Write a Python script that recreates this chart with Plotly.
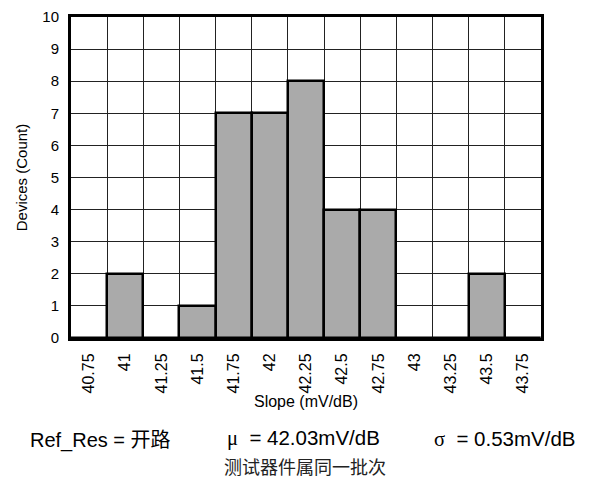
import plotly.graph_objects as go

slope_bins = [40.75, 41.0, 41.25, 41.5, 41.75, 42.0, 42.25, 42.5, 42.75, 43.0, 43.25, 43.5, 43.75]
tick_labels = ["40.75", "41", "41.25", "41.5", "41.75", "42", "42.25", "42.5", "42.75", "43", "43.25", "43.5", "43.75"]
counts = [0, 2, 0, 1, 7, 7, 8, 4, 4, 0, 0, 2, 0]
y_ticks = list(range(0, 11))

OFF = 8  # page body margin
W, H = 589 - OFF, 480 - OFF
L, R, T, B = 71 - OFF, 541 - OFF, 17 - OFF, 338 - OFF


def px(x):
    return (x - OFF - L) / (R - L)


def py(y):
    return (B - (y - OFF)) / (B - T)


fig = go.Figure()
fig.add_trace(go.Bar(
    x=slope_bins, y=counts, width=0.25,
    marker=dict(color="#aaaaaa", line=dict(color="black", width=2.5)),
))

fig.update_layout(
    width=W, height=H,
    margin=dict(l=L, r=W - R, t=T, b=H - B, autoexpand=False),
    plot_bgcolor="white", paper_bgcolor="white",
    showlegend=False,
    font=dict(family="Liberation Sans, Arial", color="black"),
    bargap=0,
)
fig.update_xaxes(
    range=[40.625, 43.875], automargin=False,
    tickvals=slope_bins, ticktext=tick_labels, tickangle=-90,
    tickfont=dict(size=16), ticks="outside", ticklen=6, tickcolor="rgba(0,0,0,0)",
    showgrid=False, ticklabeloverflow="allow",
    minor=dict(tick0=40.625, dtick=0.25, showgrid=True, gridcolor="#222222", gridwidth=1),
    showline=True, linecolor="black", linewidth=3, mirror=True,
    title=dict(text="Slope (mV/dB)", font=dict(size=16), standoff=2),
    zeroline=False,
)
fig.update_yaxes(
    range=[0, 10], tickvals=y_ticks, tickfont=dict(size=15), automargin=False,
    showgrid=True, gridcolor="#222222", gridwidth=1, ticklabeloverflow="allow",
    showline=True, linecolor="black", linewidth=3, mirror=True,
    title=dict(text="Devices (Count)", font=dict(size=15), standoff=12),
    zeroline=False, ticks="outside", ticklen=6, tickcolor="rgba(0,0,0,0)",
)

line_y = py(438)
fig.add_annotation(
    x=px(28), y=line_y, xref="paper", yref="paper", xanchor="left", yanchor="middle",
    text="Ref_Res = <span style='font-family:Noto Sans CJK SC'>开路</span>",
    showarrow=False, font=dict(size=20, family="Liberation Sans, Arial"),
)
fig.add_annotation(
    x=px(225), y=line_y, xref="paper", yref="paper", xanchor="left", yanchor="middle",
    text="<span style='font-family:Liberation Serif'>μ</span>  = 42.03mV/dB",
    showarrow=False, font=dict(size=20.5, family="Liberation Sans, Arial"),
)
fig.add_annotation(
    x=px(432), y=line_y, xref="paper", yref="paper", xanchor="left", yanchor="middle",
    text="<span style='font-family:Liberation Serif'>σ</span>  = 0.53mV/dB",
    showarrow=False, font=dict(size=20.5, family="Liberation Sans, Arial"),
)
fig.add_annotation(
    x=px(305), y=py(466), xref="paper", yref="paper", xanchor="center", yanchor="middle",
    text="测试器件属同一批次",
    showarrow=False, font=dict(size=18, family="Noto Sans CJK SC", color="#222222"),
)

fig.write_html("out.html")
